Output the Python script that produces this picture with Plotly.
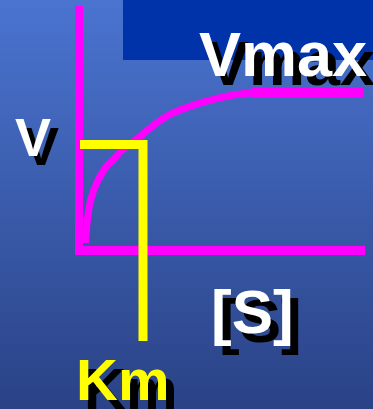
import plotly.graph_objects as go

# Units: 1 unit = 10 px in the reference, origin at the axis corner
# Michaelis-Menten style curve
S_curve = [0.65, 0.87, 1.17, 1.77, 2.7, 3.4, 4.3, 5.4, 8.8, 12.1, 15.4, 17.1, 18.9]
V_curve = [0.7, 3.3, 5.0, 6.7, 8.3, 9.0, 10.0, 10.8, 13.4, 14.7, 15.5, 15.7, 15.9]

# Axes (magenta)
v_axis_S = [0.0, 0.0]
v_axis_V = [-0.5, 24.4]
h_axis_S = [-0.4, 28.6]
h_axis_V = [-0.05, -0.05]

# Vmax plateau line
vmax_S = [17.2, 28.4]
vmax_V = [15.75, 15.75]

# Km guide (yellow)
km_S = [0.1, 6.4, 6.4]
km_V = [10.55, 10.55, -9.1]

labels = ["Vmax", "V", "[S]", "Km"]
label_S = [20.35, -4.65, 17.35, 4.3]
label_V = [19.6, 11.34, -6.15, -12.9]
label_size = [63, 54, 62, 58]
label_color = ["white", "white", "white", "#FFFF00"]

XR = [-7.9, 29.4]
YR = [-15.9, 25.0]

MAG = "#FF00FF"
YEL = "#FFFF00"

fig = go.Figure()

# gradient background
fig.add_trace(go.Scatter(
    x=[XR[0], XR[1], XR[1], XR[0], XR[0]],
    y=[YR[0], YR[0], YR[1], YR[1], YR[0]],
    mode="lines", line=dict(width=0), fill="toself",
    fillgradient=dict(type="vertical",
                      colorscale=[[0, "#2A4286"], [1, "#4A74D0"]]),
    hoverinfo="skip", showlegend=False))

fig.add_shape(type="rect", x0=4.4, x1=30, y0=19.0, y1=26,
              fillcolor="#0033AA", line=dict(width=0), layer="above")

fig.add_trace(go.Scatter(x=v_axis_S, y=v_axis_V, mode="lines",
                         line=dict(color=MAG, width=8), showlegend=False))
fig.add_trace(go.Scatter(x=h_axis_S, y=h_axis_V, mode="lines",
                         line=dict(color=MAG, width=9), showlegend=False))
fig.add_trace(go.Scatter(x=S_curve, y=V_curve, mode="lines",
                         line=dict(color=MAG, width=7, shape="spline"), showlegend=False))
fig.add_trace(go.Scatter(x=vmax_S, y=vmax_V, mode="lines",
                         line=dict(color=MAG, width=9), showlegend=False))
fig.add_trace(go.Scatter(x=km_S, y=km_V, mode="lines",
                         line=dict(color=YEL, width=9), showlegend=False))

FONT = "Liberation Sans, Arial, sans-serif"
for t, sx, vy, sz, col in zip(labels, label_S, label_V, label_size, label_color):
    fig.add_annotation(x=sx, y=vy, text=t, showarrow=False, xshift=8, yshift=-9,
                       xanchor="center", yanchor="middle",
                       font=dict(family=FONT, size=sz, color="black", weight="bold"))
    fig.add_annotation(x=sx, y=vy, text=t, showarrow=False,
                       xanchor="center", yanchor="middle",
                       font=dict(family=FONT, size=sz, color=col, weight="bold"))

fig.update_layout(
    width=373, height=409, margin=dict(l=0, r=0, t=0, b=0),
    paper_bgcolor="#3A5CAA", plot_bgcolor="#3A5CAA",
    xaxis=dict(range=XR, visible=False, fixedrange=True),
    yaxis=dict(range=YR, visible=False, fixedrange=True),
    showlegend=False,
)

fig.write_html("out.html", config={"displayModeBar": False},
               post_script="document.body.style.margin='0px';document.body.style.overflow='hidden';")
